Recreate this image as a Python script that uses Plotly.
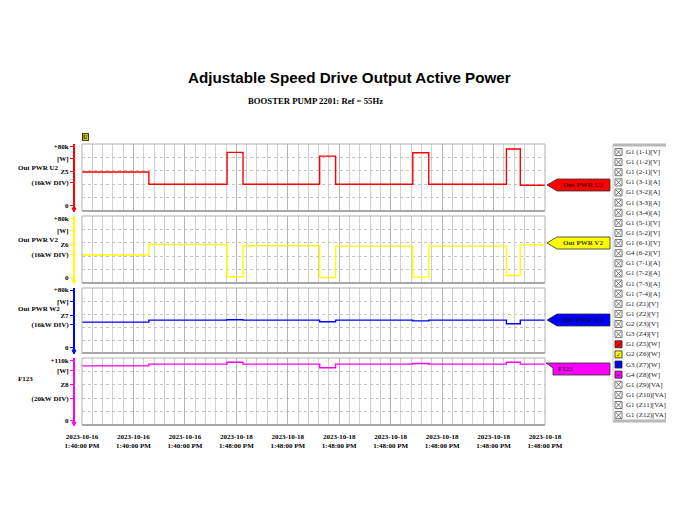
import plotly.graph_objects as go

# ---------------- data ----------------
# time axis in major divisions (0..9), one division per x tick label
times = [0, 1.30, 2.82, 3.13, 4.62, 4.93, 6.43, 6.74, 8.25, 8.52, 9.0]
out_pwr_u2 = [46500, 32000, 70000, 32000, 65500, 32000, 69500, 32000, 74000, 30800, 30800]
out_pwr_v2 = [33500, 46000, 7500, 44500, 6500, 44000, 7000, 44000, 9000, 45500, 45500]
out_pwr_w2 = [38000, 40500, 41000, 40500, 38500, 40500, 39500, 40500, 36000, 40500, 40500]
f123 = [97000, 100000, 103000, 100000, 94000, 100000, 101000, 100000, 103000, 100000, 100000]

x_tick_vals = list(range(10))
x_tick_text = [
    "2023-10-16<br>1:40:00 PM", "2023-10-16<br>1:40:00 PM", "2023-10-16<br>1:40:00 PM",
    "2023-10-18<br>1:48:00 PM", "2023-10-18<br>1:48:00 PM", "2023-10-18<br>1:48:00 PM",
    "2023-10-18<br>1:48:00 PM", "2023-10-18<br>1:48:00 PM", "2023-10-18<br>1:48:00 PM",
    "2023-10-18<br>1:48:00 PM",
]

panel_names = ["Out PWR U2", "Out PWR V2", "Out PWR W2", "F123"]
panel_colors = ["#ff0000", "#ffff00", "#0000ff", "#ff00ff"]
panel_max = [80000, 80000, 80000, 110000]
panel_div = [16000, 16000, 16000, 22000]
panel_label_vals = [
    [7000, 34000, 47500, 63000, 77500],
    [7000, 34500, 46500, 63000, 77500],
    [7000, 34500, 46500, 63000, 77500],
    [8000, 44000, 67000, 89000, 106500],
]
panel_ticktext = [
    ["0", "(16kW DIV)", "Z5", "[W]", "+80k"],
    ["0", "(16kW DIV)", "Z6", "[W]", "+80k"],
    ["0", "(16kW DIV)", "Z7", "[W]", "+80k"],
    ["0", "(20kW DIV)", "Z8", "[W]", "+110k"],
]
panel_series = [out_pwr_u2, out_pwr_v2, out_pwr_w2, f123]

list_items = [
    "G1 (1-1)[V]", "G1 (1-2)[V]", "G1 (2-1)[V]", "G1 (3-1)[A]", "G1 (3-2)[A]",
    "G1 (3-3)[A]", "G1 (3-4)[A]", "G1 (5-1)[V]", "G1 (5-2)[V]", "G1 (6-1)[V]",
    "G4 (6-2)[V]", "G1 (7-1)[A]", "G1 (7-2)[A]", "G1 (7-3)[A]", "G1 (7-4)[A]",
    "G1 (Z1)[V]", "G1 (Z2)[V]", "G2 (Z3)[V]", "G3 (Z4)[V]", "G1 (Z5)[W]",
    "G2 (Z6)[W]", "G3 (Z7)[W]", "G4 (Z8)[W]", "G1 (Z9)[VA]", "G1 (Z10)[VA]",
    "G1 (Z11)[VA]", "G1 (Z12)[VA]",
]
list_colors = {19: "#ff0000", 20: "#ffff00", 21: "#0000ff", 22: "#ff00ff"}

# ---------------- layout helpers ----------------
# page body has an 8px margin, so the figure is shrunk/shifted accordingly
W, H = 669, 500
ML, MR, MT, MB = 66, 132, 135, 83
PW, PH = W - ML - MR, H - MT - MB


def fx(px):  # px measured on the 677x508 screenshot
    return (px - 74) / PW


def fy(py):
    return (425 - py) / PH


panel_px = [(144, 211), (216, 283), (288, 353), (358, 425)]
name_pos = [0.64, 0.64, 0.68, 0.69]
SERIF = "Liberation Serif"
tickfont = dict(family=SERIF, size=7, color="#000000", weight="bold")

fig = go.Figure()
layout = dict(
    width=W, height=H,
    margin=dict(l=ML, r=MR, t=MT, b=MB),
    paper_bgcolor="white", plot_bgcolor="white",
    showlegend=False,
)
shapes = []
annotations = []

for i in range(4):
    n = i + 1
    xa = "x" if n == 1 else f"x{n}"
    ya = "y" if n == 1 else f"y{n}"
    fig.add_trace(go.Scatter(
        x=times, y=panel_series[i], mode="lines", line_shape="hv",
        line=dict(color=panel_colors[i], width=1.4),
        xaxis=xa, yaxis=ya, name=panel_names[i], hoverinfo="skip",
    ))
    top, bot = panel_px[i]
    xaxis = dict(
        domain=[fx(82), 1], range=[0, 9], anchor=ya,
        tickmode="array", tickvals=x_tick_vals, ticktext=x_tick_text,
        showticklabels=(n == 4),
        tickfont=dict(family=SERIF, size=7, color="#000", weight="bold"),
        ticklabelstandoff=6,
        showgrid=True, gridcolor="#b4b4b4", gridwidth=1,
        minor=dict(dtick=0.2, tick0=0, showgrid=True, gridcolor="#d0d0d0", gridwidth=1),
        zeroline=False, showline=False, ticks="",
    )
    if n > 1:
        xaxis["matches"] = "x"
    layout["xaxis" if n == 1 else f"xaxis{n}"] = xaxis
    mx = panel_max[i]
    layout["yaxis" if n == 1 else f"yaxis{n}"] = dict(
        domain=[fy(bot), fy(top)], range=[0, mx], anchor="free", position=0,
        tickmode="array", tickvals=panel_label_vals[i],
        ticktext=panel_ticktext[i], tickfont=tickfont,
        ticks="outside", ticklen=3, tickcolor=panel_colors[i], tickwidth=1,
        showline=True, linecolor=panel_colors[i], linewidth=2,
        showgrid=False,
        minor=dict(dtick=panel_div[i], tick0=0, showgrid=True, gridcolor="#c4c4c4",
                   griddash="dot", gridwidth=1, ticks=""),
        zeroline=False,
    )
    # panel frame
    shapes.append(dict(type="rect", xref=f"{xa} domain", yref=f"{ya} domain",
                       x0=0, x1=1, y0=0, y1=1, line=dict(color="#b0b0b0", width=1)))
    shapes.append(dict(type="line", xref=f"{xa} domain", yref=f"{ya} domain",
                       x0=0, x1=1, y0=0, y1=0, line=dict(color="#a8a8a8", width=2)))
    # small arrow at the foot of the coloured axis
    shapes.append(dict(type="path", xref="paper", yref="paper",
                       path=f"M {fx(72):.5f},{fy(bot - 3):.5f} L {fx(76):.5f},{fy(bot - 3):.5f} L {fx(74):.5f},{fy(bot + 1):.5f} Z",
                       fillcolor=panel_colors[i], line=dict(color=panel_colors[i], width=1)))
    # left name label
    annotations.append(dict(
        xref="paper", yref=f"{ya} domain", x=fx(16), y=name_pos[i],
        xanchor="left", yanchor="middle", showarrow=False, text=panel_names[i],
        font=dict(family=SERIF, size=7, color="#000", weight="bold"),
    ))

# --- right-side tags ---
def path(points):
    return "M " + " L ".join(f"{fx(a):.5f},{fy(b):.5f}" for a, b in points) + " Z"


tag_y = [185, 243, 320]
tag_text_color = ["#400000", "#404000", "#000040"]
for i in range(3):
    c = tag_y[i]
    shapes.append(dict(type="path", xref="paper", yref="paper",
                       path=path([(547, c), (557, c - 6), (610, c - 6), (610, c + 6), (557, c + 6)]),
                       fillcolor=panel_colors[i], line=dict(color="#303030", width=0.8)))
    annotations.append(dict(xref="paper", yref="paper", x=fx(583), y=fy(c), showarrow=False,
                            text=panel_names[i], xanchor="center", yanchor="middle",
                            font=dict(family=SERIF, size=7, color=tag_text_color[i], weight="bold")))
shapes.append(dict(type="path", xref="paper", yref="paper",
                   path=path([(546, 363), (610, 363), (610, 375), (553, 375), (553, 368)]),
                   fillcolor=panel_colors[3], line=dict(color="#303030", width=0.8)))
annotations.append(dict(xref="paper", yref="paper", x=fx(556), y=fy(369), showarrow=False,
                        text="F123", xanchor="left", yanchor="middle",
                        font=dict(family=SERIF, size=7, color="#400040", weight="bold")))

# --- channel list box ---
shapes.append(dict(type="line", xref="paper", yref="paper", x0=fx(613), x1=fx(666),
                   y0=fy(145), y1=fy(145), line=dict(color="#b8b8b8", width=3)))
shapes.append(dict(type="line", xref="paper", yref="paper", x0=fx(613), x1=fx(666),
                   y0=fy(421), y1=fy(421), line=dict(color="#b8b8b8", width=3)))
shapes.append(dict(type="line", xref="paper", yref="paper", x0=fx(613), x1=fx(613),
                   y0=fy(145), y1=fy(421), line=dict(color="#c8c8c8", width=1)))
for k, item in enumerate(list_items):
    yc = 152 + k * 10.12
    x0b, x1b = 615, 622
    y0b, y1b = yc - 3.5, yc + 3.5
    if k in list_colors:
        shapes.append(dict(type="rect", xref="paper", yref="paper",
                           x0=fx(x0b), x1=fx(x1b), y0=fy(y1b), y1=fy(y0b),
                           fillcolor=list_colors[k], line=dict(color="#202020", width=0.8)))
        annotations.append(dict(xref="paper", yref="paper", x=fx(618.5), y=fy(yc),
                                text="\u2713", showarrow=False, xanchor="center", yanchor="middle",
                                font=dict(family="DejaVu Sans", size=6, color="#000")))
    else:
        shapes.append(dict(type="rect", xref="paper", yref="paper",
                           x0=fx(x0b), x1=fx(x1b), y0=fy(y1b), y1=fy(y0b),
                           line=dict(color="#505050", width=0.8)))
        shapes.append(dict(type="path", xref="paper", yref="paper",
                           path=(f"M {fx(x0b + 1):.5f},{fy(y0b + 1):.5f} L {fx(x1b - 1):.5f},{fy(y1b - 1):.5f} "
                                 f"M {fx(x0b + 1):.5f},{fy(y1b - 1):.5f} L {fx(x1b - 1):.5f},{fy(y0b + 1):.5f}"),
                           line=dict(color="#505050", width=0.8)))
    annotations.append(dict(xref="paper", yref="paper", x=fx(624), y=fy(yc), showarrow=False,
                            text=item, xanchor="left", yanchor="middle",
                            font=dict(family=SERIF, size=7, color="#202020")))

# --- titles and small marker ---
annotations.append(dict(xref="paper", yref="paper", x=fx(349), y=fy(78), showarrow=False,
                        text="<b>Adjustable Speed Drive Output Active Power</b>",
                        xanchor="center", yanchor="middle",
                        font=dict(family="Liberation Sans", size=15.2, color="#000")))
annotations.append(dict(xref="paper", yref="paper", x=fx(315), y=fy(101), showarrow=False,
                        text="<b>BOOSTER PUMP 2201: Ref = 55Hz</b>",
                        xanchor="center", yanchor="middle",
                        font=dict(family=SERIF, size=8.7, color="#000")))
annotations.append(dict(xref="paper", yref="paper", x=fx(85.5), y=fy(137), showarrow=False,
                        text="<b>U</b>", xanchor="center", yanchor="middle",
                        bgcolor="#c8c820", bordercolor="#404000", borderwidth=1, borderpad=0,
                        font=dict(family=SERIF, size=6, color="#202000")))

layout["shapes"] = shapes
layout["annotations"] = annotations
fig.update_layout(**layout)
fig.write_html("out.html")
